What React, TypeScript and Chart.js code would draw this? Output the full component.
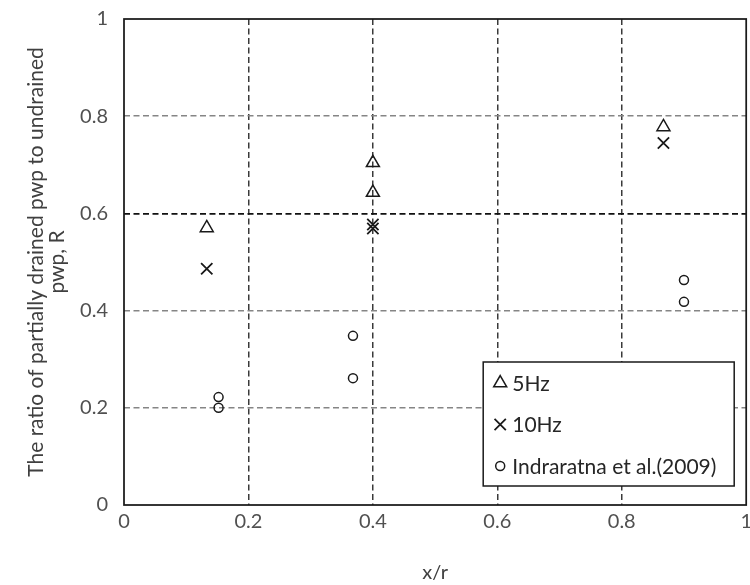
import React, { useEffect, useRef } from "react";
import { Chart, registerables } from "chart.js";

Chart.register(...registerables);

// ---- data ----
const seriesLabels = ["5Hz", "10Hz", "Indraratna et al.(2009)"];
const x5Hz = [0.133, 0.4, 0.4, 0.867];
const y5Hz = [0.57, 0.704, 0.643, 0.778];
const x10Hz = [0.133, 0.4, 0.4, 0.867];
const y10Hz = [0.486, 0.577, 0.569, 0.745];
const xIndra = [0.152, 0.152, 0.368, 0.368, 0.9, 0.9];
const yIndra = [0.222, 0.2, 0.348, 0.261, 0.463, 0.418];
const xTickValues = [0, 0.2, 0.4, 0.6, 0.8, 1];
const yTickValues = [0, 0.2, 0.4, 0.6, 0.8, 1];
const xTickLabels = ["0", "0.2", "0.4", "0.6", "0.8", "1"];
const yTickLabels = ["0", "0.2", "0.4", "0.6", "0.8", "1"];
const highlightY = 0.6;
const xTitle = "x/r";
const yTitle = ["The ratio of partially drained pwp to undrained", "pwp, R"];

const FONT = 'Lato, "Liberation Sans", sans-serif';

const toPoints = (xs: number[], ys: number[]) => xs.map((x, i) => ({ x, y: ys[i] }));

function drawMarker(ctx: CanvasRenderingContext2D, style: string, x: number, y: number, r: number) {
  ctx.beginPath();
  if (style === "triangle") {
    let rad = 0;
    ctx.moveTo(x + Math.sin(rad) * r, y - Math.cos(rad) * r);
    rad += (2 * Math.PI) / 3;
    ctx.lineTo(x + Math.sin(rad) * r, y - Math.cos(rad) * r);
    rad += (2 * Math.PI) / 3;
    ctx.lineTo(x + Math.sin(rad) * r, y - Math.cos(rad) * r);
    ctx.closePath();
  } else if (style === "crossRot") {
    const d = Math.cos(Math.PI / 4) * r;
    ctx.moveTo(x - d, y - d);
    ctx.lineTo(x + d, y + d);
    ctx.moveTo(x - d, y + d);
    ctx.lineTo(x + d, y - d);
  } else {
    ctx.arc(x, y, r, 0, Math.PI * 2);
  }
  ctx.stroke();
}

const frameAndLegend = {
  id: "frameAndLegend",
  afterDatasetsDraw(chart: any) {
    const { ctx, chartArea } = chart;
    ctx.save();
    // plot frame
    ctx.strokeStyle = "#1a1a1a";
    ctx.lineWidth = 1.75;
    ctx.strokeRect(chartArea.left, chartArea.top, chartArea.right - chartArea.left, chartArea.bottom - chartArea.top);
    // legend box
    const w = 251;
    const h = 124;
    const x0 = chartArea.right - 12 - w;
    const y0 = chartArea.bottom - 19 - h;
    ctx.fillStyle = "#ffffff";
    ctx.fillRect(x0, y0, w, h);
    ctx.strokeStyle = "#1a1a1a";
    ctx.lineWidth = 1.5;
    ctx.strokeRect(x0, y0, w, h);
    chart.data.datasets.forEach((ds: any, i: number) => {
      const cy = y0 + 21 + i * 41.5;
      const cx = x0 + 17;
      ctx.strokeStyle = ds.borderColor;
      ctx.lineWidth = ds.pointBorderWidth;
      drawMarker(ctx, ds.pointStyle, cx, cy, ds.pointRadius);
      ctx.fillStyle = "#262626";
      ctx.font = `21px ${FONT}`;
      ctx.textAlign = "left";
      ctx.textBaseline = "middle";
      ctx.fillText(ds.label, x0 + 29, cy + 1);
    });
    ctx.restore();
  },
};

export default function App() {
  const ref = useRef<HTMLCanvasElement | null>(null);

  useEffect(() => {
    if (!ref.current) return;
    const chart = new Chart(ref.current, {
      type: "scatter",
      data: {
        datasets: [
          {
            label: seriesLabels[0],
            data: toPoints(x5Hz, y5Hz),
            pointStyle: "triangle",
            pointRadius: 7.5,
            pointBorderWidth: 1.5,
            borderColor: "#1a1a1a",
            backgroundColor: "rgba(0,0,0,0)",
            showLine: false,
          },
          {
            label: seriesLabels[1],
            data: toPoints(x10Hz, y10Hz),
            pointStyle: "crossRot",
            pointRadius: 8,
            pointBorderWidth: 1.8,
            borderColor: "#1a1a1a",
            backgroundColor: "rgba(0,0,0,0)",
            showLine: false,
          },
          {
            label: seriesLabels[2],
            data: toPoints(xIndra, yIndra),
            pointStyle: "circle",
            pointRadius: 4.5,
            pointBorderWidth: 1.5,
            borderColor: "#1a1a1a",
            backgroundColor: "rgba(0,0,0,0)",
            showLine: false,
          },
        ] as any,
      },
      options: {
        animation: false,
        responsive: false,
        events: [],
        layout: { padding: { top: 19, right: 0, bottom: 0, left: 0 } },
        plugins: {
          legend: { display: false },
          tooltip: { enabled: false },
        },
        scales: {
          x: {
            type: "linear",
            min: 0,
            max: 1,
            afterBuildTicks: (scale: any) => {
              scale.ticks = xTickValues.map((v) => ({ value: v }));
            },
            afterFit: (scale: any) => {
              scale.height = 80;
            },
            ticks: {
              padding: 1,
              color: "#505050",
              font: { family: FONT, size: 20 },
              maxRotation: 0,
              callback: (v: any) => xTickLabels[xTickValues.indexOf(Number(v))] ?? "",
            },
            grid: {
              drawTicks: true,
              tickLength: 4,
              tickColor: "rgba(0,0,0,0)",
              color: (c: any) =>
                c.tick && (c.tick.value === 0 || c.tick.value === 1) ? "rgba(0,0,0,0)" : "#3a3a3a",
              lineWidth: 1.5,
            },
            border: { display: false, dash: [6, 3.5] },
            title: {
              display: true,
              text: xTitle,
              color: "#404040",
              font: { family: FONT, size: 20, lineHeight: 1.1 },
              padding: { top: 0, bottom: 1 },
            },
          },
          y: {
            type: "linear",
            min: 0,
            max: 1,
            afterBuildTicks: (scale: any) => {
              scale.ticks = yTickValues.map((v) => ({ value: v }));
            },
            afterFit: (scale: any) => {
              scale.width = 124;
            },
            ticks: {
              padding: 2,
              color: "#505050",
              font: { family: FONT, size: 20 },
              callback: (v: any) => yTickLabels[yTickValues.indexOf(Number(v))] ?? "",
            },
            grid: {
              drawTicks: true,
              tickLength: 14,
              tickColor: "rgba(0,0,0,0)",
              color: (c: any) => {
                if (!c.tick) return "#808080";
                if (c.tick.value === 0 || c.tick.value === 1) return "rgba(0,0,0,0)";
                if (Math.abs(c.tick.value - highlightY) < 1e-9) return "#111111";
                return "#858585";
              },
              lineWidth: (c: any) =>
                c.tick && Math.abs(c.tick.value - highlightY) < 1e-9 ? 1.8 : 1.5,
            },
            border: { display: false, dash: [6, 3.5] },
            title: {
              display: true,
              text: yTitle,
              color: "#404040",
              font: { family: FONT, size: 21, lineHeight: 1.0 },
              padding: { top: 26, bottom: 0 },
            },
          },
        },
      },
      plugins: [frameAndLegend],
    } as any);
    return () => chart.destroy();
  }, []);

  return (
    <div
      style={{
        position: "fixed",
        left: 0,
        top: 0,
        width: 750,
        height: 585,
        overflow: "hidden",
        background: "#ffffff",
      }}
    >
      <canvas ref={ref} width={756} height={585} style={{ width: 756, height: 585, display: "block" }} />
    </div>
  );
}
